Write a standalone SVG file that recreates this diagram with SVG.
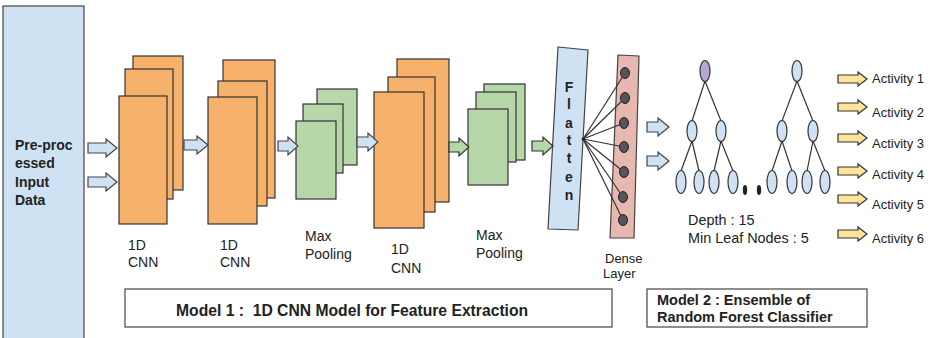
<svg xmlns="http://www.w3.org/2000/svg" width="931" height="338" viewBox="0 0 931 338">
<style>
text{font-family:"Liberation Sans",Arial,sans-serif;fill:#222}
.b{font-weight:bold}
.lbl{font-size:14px}
.or{fill:#f6b26b;stroke:#333;stroke-width:1.2}
.gr{fill:#b6d7a8;stroke:#333;stroke-width:1.2}
.bl{fill:#cfe2f3;stroke:#444;stroke-width:1.2}
.ya{fill:#ffe599;stroke:#333;stroke-width:1.2}
.nd{fill:#cfe2f3;stroke:#333;stroke-width:1.2}
.e{stroke:#333;stroke-width:1.2;fill:none}
.dc{fill:#555;stroke:#222;stroke-width:1}
.box{fill:#fff;stroke:#444;stroke-width:1.2}
</style>
<rect width="931" height="338" fill="#fff"/>
<g id="input">
<rect class="bl" x="3" y="6" width="81" height="340"/>
<text class="b" font-size="14" x="15" y="150">Pre-proc</text>
<text class="b" font-size="14" x="15" y="168">essed</text>
<text class="b" font-size="14" x="15" y="187">Input</text>
<text class="b" font-size="14" x="15" y="205">Data</text>
</g>
<g id="cnn1">
<rect class="or" x="133" y="56" width="50" height="134"/>
<rect class="or" x="125" y="69" width="48" height="130"/>
<rect class="or" x="119" y="96" width="48" height="128"/>
<text class="lbl" x="128" y="250">1D</text>
<text class="lbl" x="128" y="267">CNN</text>
</g>
<g id="cnn2">
<rect class="or" x="223" y="60" width="52" height="138"/>
<rect class="or" x="218" y="81" width="49" height="125"/>
<rect class="or" x="208" y="97" width="49" height="127"/>
<text class="lbl" x="220" y="250">1D</text>
<text class="lbl" x="220" y="267">CNN</text>
</g>
<g id="maxpool1">
<rect class="gr" x="317" y="89" width="40" height="76"/>
<rect class="gr" x="303" y="104" width="40" height="69"/>
<rect class="gr" x="296" y="121" width="40" height="78"/>
<text class="lbl" x="305" y="241">Max</text>
<text class="lbl" x="305" y="259">Pooling</text>
</g>
<g id="cnn3">
<rect class="or" x="397" y="59" width="52" height="143"/>
<rect class="or" x="388" y="77" width="47" height="135"/>
<rect class="or" x="374" y="92" width="50" height="136"/>
<text class="lbl" x="391" y="254">1D</text>
<text class="lbl" x="391" y="273">CNN</text>
</g>
<g id="maxpool2">
<rect class="gr" x="484" y="84" width="41" height="76"/>
<rect class="gr" x="476" y="92" width="40" height="70"/>
<rect class="gr" x="468" y="109" width="40" height="76"/>
<text class="lbl" x="476" y="240">Max</text>
<text class="lbl" x="476" y="258">Pooling</text>
</g>
<g id="flatten">
<polygon class="bl" points="558,47 588,50 578,230 548,229"/>
<g class="b" font-size="14" text-anchor="middle">
<text x="569" y="92">F</text>
<text x="569" y="109">l</text>
<text x="569" y="128">a</text>
<text x="569" y="145">t</text>
<text x="569" y="163">t</text>
<text x="569" y="182">e</text>
<text x="569" y="200">n</text>
</g>
</g>
<g id="dense">
<polygon fill="#e6b8af" stroke="#444" stroke-width="1.2" points="618,55 639,56 634,238 610,238"/>
<g class="e">
<line x1="583" y1="139" x2="625" y2="73"/>
<line x1="583" y1="139" x2="625" y2="98"/>
<line x1="583" y1="139" x2="624" y2="123"/>
<line x1="583" y1="139" x2="624" y2="147"/>
<line x1="583" y1="139" x2="624" y2="172"/>
<line x1="583" y1="139" x2="623" y2="197"/>
<line x1="583" y1="139" x2="623" y2="220"/>
</g>
<circle cx="583" cy="139" r="1.5" fill="#222"/>
<ellipse class="dc" cx="625" cy="73" rx="4.5" ry="5.5"/>
<ellipse class="dc" cx="625" cy="98" rx="4.5" ry="5.5"/>
<ellipse class="dc" cx="624" cy="123" rx="4.5" ry="5.5"/>
<ellipse class="dc" cx="624" cy="147" rx="4.5" ry="5.5"/>
<ellipse class="dc" cx="624" cy="172" rx="4.5" ry="5.5"/>
<ellipse class="dc" cx="623" cy="197" rx="4.5" ry="5.5"/>
<ellipse class="dc" cx="623" cy="220" rx="4.5" ry="5.5"/>
<text font-size="13" x="605" y="263">Dense</text>
<text font-size="13" x="603" y="278">Layer</text>
</g>
<g id="tree1">
<g class="e">
<line x1="705" y1="81" x2="692" y2="121"/>
<line x1="705" y1="81" x2="721" y2="121"/>
<line x1="692" y1="141" x2="681" y2="171"/>
<line x1="692" y1="141" x2="699" y2="171"/>
<line x1="721" y1="141" x2="714" y2="171"/>
<line x1="721" y1="141" x2="733" y2="171"/>
</g>
<ellipse cx="705" cy="71" rx="5" ry="10.5" fill="#b4a7d6" stroke="#333" stroke-width="1.2"/>
<ellipse class="nd" cx="692" cy="131" rx="5" ry="10.5"/>
<ellipse class="nd" cx="721" cy="131" rx="5" ry="10.5"/>
<ellipse class="nd" cx="681" cy="182" rx="5" ry="11.5"/>
<ellipse class="nd" cx="699" cy="182" rx="5" ry="11.5"/>
<ellipse class="nd" cx="714" cy="182" rx="5" ry="11.5"/>
<ellipse class="nd" cx="733" cy="182" rx="5" ry="11.5"/>
</g>
<g id="dots">
<ellipse cx="745" cy="190" rx="2.2" ry="5" fill="#222"/>
<ellipse cx="759" cy="190" rx="2.2" ry="5" fill="#222"/>
</g>
<g id="tree2">
<g class="e">
<line x1="797" y1="81" x2="782" y2="121"/>
<line x1="797" y1="81" x2="813" y2="121"/>
<line x1="782" y1="141" x2="772" y2="171"/>
<line x1="782" y1="141" x2="792" y2="171"/>
<line x1="813" y1="141" x2="807" y2="171"/>
<line x1="813" y1="141" x2="825" y2="171"/>
</g>
<ellipse class="nd" cx="797" cy="71" rx="5" ry="10.5"/>
<ellipse class="nd" cx="782" cy="131" rx="5" ry="10.5"/>
<ellipse class="nd" cx="813" cy="131" rx="5" ry="10.5"/>
<ellipse class="nd" cx="772" cy="182" rx="5" ry="11.5"/>
<ellipse class="nd" cx="792" cy="182" rx="5" ry="11.5"/>
<ellipse class="nd" cx="807" cy="182" rx="5" ry="11.5"/>
<ellipse class="nd" cx="825" cy="182" rx="5" ry="11.5"/>
</g>
<g id="rf-params">
<text font-size="14.4" x="688" y="225">Depth : 15</text>
<text font-size="14.4" x="688" y="243">Min Leaf Nodes : 5</text>
</g>
<g id="activities" font-size="13">
<text x="872" y="83">Activity 1</text>
<text x="872" y="117">Activity 2</text>
<text x="872" y="148">Activity 3</text>
<text x="872" y="179">Activity 4</text>
<text x="872" y="209">Activity 5</text>
<text x="872" y="243">Activity 6</text>
</g>
<g id="model1">
<rect class="box" x="125" y="289" width="487" height="38"/>
<text class="b" font-size="15.7" x="176" y="316" xml:space="preserve">Model 1 :  1D CNN Model for Feature Extraction</text>
</g>
<g id="model2">
<rect class="box" x="647" y="289" width="220" height="38"/>
<text class="b" font-size="14.5" x="657" y="305">Model 2 : Ensemble of</text>
<text class="b" font-size="14.5" x="657" y="322">Random Forest Classifier</text>
</g>
<g id="connectors">
<polygon class="bl" points="88,143 106,143 106,139 117,148 106,157 106,153 88,153"/>
<polygon class="bl" points="88,177 106,177 106,173 117,182 106,191 106,187 88,187"/>
<polygon class="bl" points="184,140 197,140 197,136 208,145 197,154 197,150 184,150"/>
<polygon class="bl" points="278,141 288,141 288,137 298,146 288,155 288,151 278,151"/>
<polygon class="bl" points="357,137 368,137 368,133 378,142 368,151 368,147 357,147"/>
<polygon class="gr" points="449,142 459,142 459,138 469,147 459,156 459,152 449,152"/>
<polygon class="gr" points="532,141 543,141 543,137 553,146 543,155 543,151 532,151"/>
<polygon class="bl" points="647,122 658,122 658,118 669,127 658,136 658,132 647,132"/>
<polygon class="bl" points="647,156 658,156 658,152 669,161 658,170 658,166 647,166"/>
<polygon class="ya" points="838,75 858,75 858,72 867,79 858,86 858,83 838,83"/>
<polygon class="ya" points="838,103 858,103 858,100 867,107 858,114 858,111 838,111"/>
<polygon class="ya" points="838,134 858,134 858,131 867,138 858,145 858,142 838,142"/>
<polygon class="ya" points="838,167 858,167 858,164 867,171 858,178 858,175 838,175"/>
<polygon class="ya" points="838,195 858,195 858,192 867,199 858,206 858,203 838,203"/>
<polygon class="ya" points="838,230 858,230 858,227 867,234 858,241 858,238 838,238"/>
</g>
</svg>
